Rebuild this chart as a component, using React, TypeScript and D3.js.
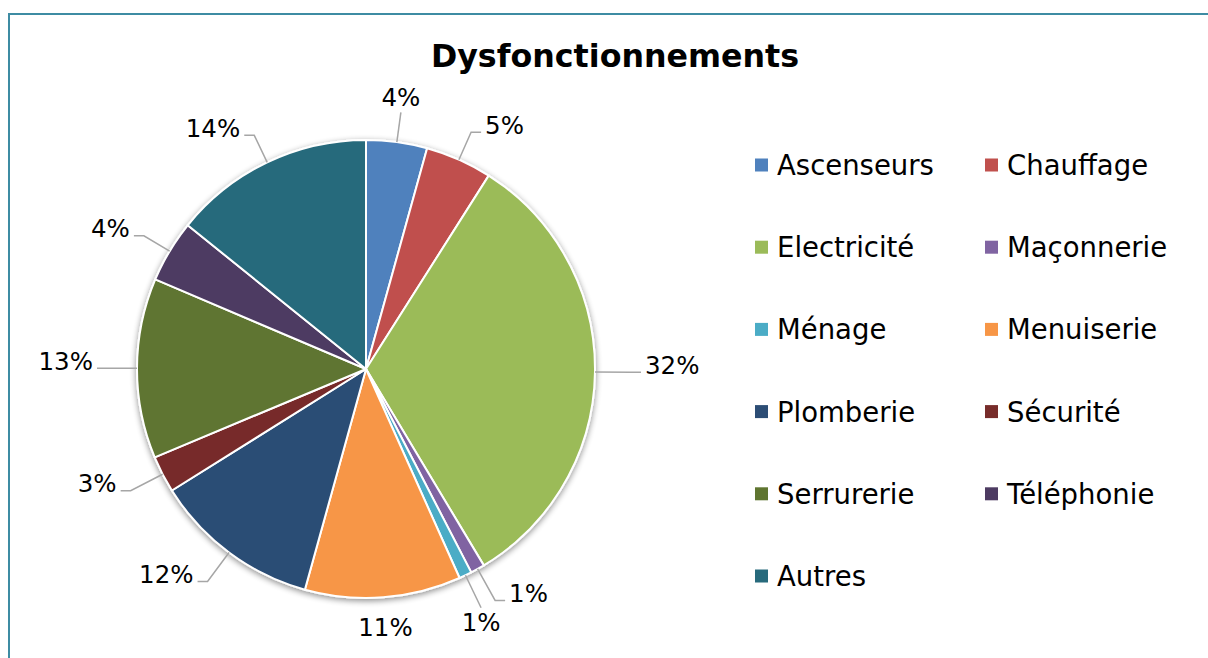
import React from "react";
import * as d3 from "d3";

const categories = [
  "Ascenseurs", "Chauffage", "Electricité", "Maçonnerie", "Ménage", "Menuiserie",
  "Plomberie", "Sécurité", "Serrurerie", "Téléphonie", "Autres",
];
const values = [4.3, 4.7, 32.4, 1.0, 0.9, 11.0, 11.8, 2.6, 12.7, 4.4, 14.2];
const colors = [
  "#4F81BD", "#C0504D", "#9BBB59", "#8064A2", "#4BACC6", "#F79646",
  "#2C4D75", "#772C2A", "#5F7530", "#4D3B62", "#276A7C",
];
const title = "Dysfonctionnements";

const W = 1208;
const H = 658;
const cx = 366;
const cy = 369;
const R = 229;
const font = "'DejaVu Sans', Verdana, sans-serif";

type Slice = { name: string; value: number; color: string };

const App = () => {
  const data: Slice[] = categories.map((name, i) => ({ name, value: values[i], color: colors[i] }));
  const total = d3.sum(values);
  const pie = d3.pie<Slice>().sort(null).value(d => d.value);
  const arcs = pie(data);
  const arc = d3.arc<d3.PieArcDatum<Slice>>().innerRadius(0).outerRadius(R);

  const labels = arcs.map(a => {
    const mid = (a.startAngle + a.endAngle) / 2;
    const deg = (mid * 180) / Math.PI;
    const sx = cx + R * Math.sin(mid);
    const sy = cy - R * Math.cos(mid);
    const lr = deg > 90 && deg < 270 ? 36 : 30;
    const ex = cx + (R + lr) * Math.sin(mid);
    const ey = cy - (R + lr) * Math.cos(mid);
    const text = `${Math.round((a.data.value / total) * 100)}%`;
    // label straight under the slice, close enough to need no leader
    if (Math.abs(deg - 180) < 8) {
      return { text, pts: [], tx: cx + (R + 30) * Math.sin(mid), ty: cy - (R + 30) * Math.cos(mid), anchor: "middle" };
    }
    if (deg < 22 || deg > 338) {
      return { text, pts: [[sx, sy], [ex, ey]], tx: ex, ty: ey - 15, anchor: "middle" };
    }
    if (Math.abs(deg - 180) < 26) {
      return { text, pts: [[sx, sy], [ex, ey]], tx: ex, ty: ey + 15, anchor: "middle" };
    }
    const side = Math.sin(mid) > 0 ? 1 : -1;
    const hx = ex + side * 10;
    return {
      text,
      pts: [[sx, sy], [ex, ey], [hx, ey]],
      tx: hx + side * 4,
      ty: ey - 7,
      anchor: side > 0 ? "start" : "end",
    };
  });

  const legendX = [755, 985];
  const legendY0 = 165;
  const legendStep = 82.2;

  return (
    <svg width={W} height={H} style={{ position: "absolute", left: 0, top: 0, background: "#fff" }}>
      <defs>
        <filter id="shadow" x="-20%" y="-20%" width="140%" height="140%">
          <feGaussianBlur in="SourceAlpha" stdDeviation="3" />
          <feOffset dx="0" dy="2" result="blur" />
          <feComponentTransfer>
            <feFuncA type="linear" slope="0.45" />
          </feComponentTransfer>
          <feMerge>
            <feMergeNode />
            <feMergeNode in="SourceGraphic" />
          </feMerge>
        </filter>
      </defs>
      <rect x={9} y={14} width={W + 20} height={H + 20} fill="none" stroke="#3E8CA3" strokeWidth={2} />
      <text x={615} y={56} textAnchor="middle" dominantBaseline="central"
        fontFamily={font} fontWeight="bold" fontSize={31.7} fill="#000">
        {title}
      </text>

      <g transform={`translate(${cx},${cy})`} filter="url(#shadow)">
        {arcs.map((a, i) => (
          <path key={i} d={arc(a) || ""} fill={a.data.color} stroke="#fff" strokeWidth={2} strokeLinejoin="round" />
        ))}
      </g>

      {labels.map((l, i) => (
        <g key={i}>
          {l.pts.length > 0 && (
            <polyline points={l.pts.map(p => p.join(",")).join(" ")} fill="none" stroke="#A6A6A6" strokeWidth={1.5} />
          )}
          <text x={l.tx} y={l.ty} textAnchor={l.anchor as any} dominantBaseline="central"
            fontFamily={font} fontSize={24.5} fill="#000">
            {l.text}
          </text>
        </g>
      ))}

      {data.map((d, i) => {
        const x = legendX[i % 2];
        const y = legendY0 + Math.floor(i / 2) * legendStep;
        return (
          <g key={d.name}>
            <rect x={x} y={y - 6.5} width={13} height={13} fill={d.color} />
            <text x={x + 22} y={y} dominantBaseline="central" fontFamily={font} fontSize={27.5} fill="#000">
              {d.name}
            </text>
          </g>
        );
      })}
    </svg>
  );
};

export default App;
